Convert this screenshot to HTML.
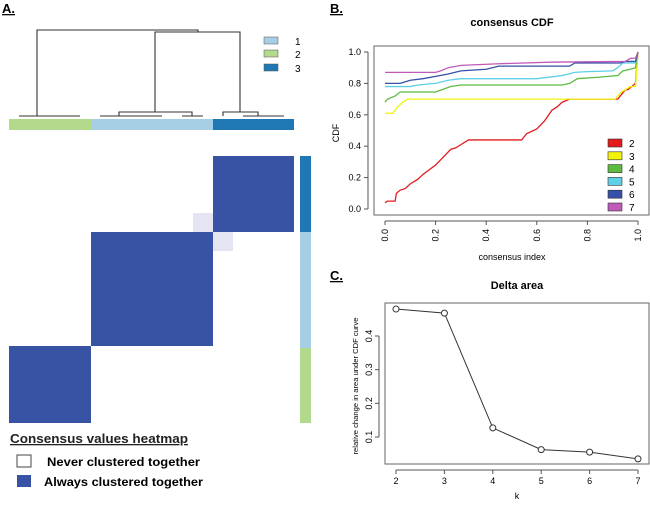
<!DOCTYPE html>
<html><head><meta charset="utf-8"><style>
body{margin:0;background:#fff;}
svg{display:block;font-family:"Liberation Sans",Arial,sans-serif;}
</style></head><body>
<svg id="fig" width="650" height="506" viewBox="0 0 650 506">
<!-- Panel A -->
<g>
<text x="2" y="13" font-size="13" font-weight="bold" text-decoration="underline">A.</text>
<g stroke="#333" stroke-width="1.1" fill="none">
<path d="M37,116 V30 H198 V32"/>
<path d="M155,112 V32 H240 V112"/>
<path d="M19,116 H80"/>
<path d="M119,116 V112 H192 V116"/>
<path d="M100,116 H162"/><path d="M182,116 H203"/>
<path d="M223,116 V112 H258 V116"/>
<path d="M243,116 H284"/>
</g>
<g>
<rect x="9" y="119" width="82" height="11" fill="#b2d98c"/>
<rect x="91" y="119" width="122" height="11" fill="#a6cfe5"/>
<rect x="213" y="119" width="81" height="11" fill="#1f78b4"/>
</g>
<g>
<rect x="264" y="37" width="14" height="7" fill="#a6cfe5" stroke="#555" stroke-width="0.5"/>
<rect x="264" y="50" width="14" height="7" fill="#b2d98c" stroke="#555" stroke-width="0.5"/>
<rect x="264" y="64" width="14" height="7" fill="#1f78b4" stroke="#555" stroke-width="0.5"/>
<text x="295" y="45" font-size="10">1</text><text x="295" y="58" font-size="10">2</text><text x="295" y="72" font-size="10">3</text>
</g>
<g>
<rect x="193" y="213" width="20" height="19" fill="#e4e4f2"/>
<rect x="213" y="232" width="20" height="19" fill="#e4e4f2"/>
<rect x="213" y="156" width="81" height="76" fill="#3953a4"/>
<rect x="91" y="232" width="122" height="114" fill="#3953a4"/>
<rect x="9" y="346" width="82" height="77" fill="#3953a4"/>
</g>
<g>
<rect x="300" y="156" width="11" height="76" fill="#1f78b4"/>
<rect x="300" y="232" width="11" height="116" fill="#a6cfe5"/>
<rect x="300" y="348" width="11" height="75" fill="#b2d98c"/>
</g>
<text x="10" y="443" font-size="13" font-weight="bold" text-decoration="underline" fill="#222" textLength="178" lengthAdjust="spacingAndGlyphs">Consensus values heatmap</text>
<rect x="17" y="455" width="14" height="12" fill="#fff" stroke="#444"/>
<text x="47" y="466" font-size="11.5" font-weight="bold" textLength="153" lengthAdjust="spacingAndGlyphs">Never clustered together</text>
<rect x="17" y="475" width="14" height="12" fill="#3953a4"/>
<text x="44" y="486" font-size="11.5" font-weight="bold" textLength="159" lengthAdjust="spacingAndGlyphs">Always clustered together</text>
</g>
<!-- Panel B -->
<g id="pb">
<text x="330" y="13" font-size="13" font-weight="bold" text-decoration="underline">B.</text>
<text x="512" y="26" font-size="11" font-weight="bold" text-anchor="middle">consensus CDF</text>
<rect x="374" y="46" width="275" height="169" fill="none" stroke="#666"/>
<text transform="translate(339,133) rotate(-90)" font-size="9" text-anchor="middle">CDF</text>
<text x="512" y="260" font-size="9" text-anchor="middle">consensus index</text>
</g>
<!-- Panel C -->
<g id="pc">
<text x="330" y="280" font-size="13" font-weight="bold" text-decoration="underline">C.</text>
<text x="517" y="289" font-size="11" font-weight="bold" text-anchor="middle">Delta area</text>
<rect x="385" y="303" width="264" height="161" fill="none" stroke="#666"/>
<text transform="translate(358,386) rotate(-90)" font-size="7" text-anchor="middle" textLength="137" lengthAdjust="spacingAndGlyphs">relative change in area under CDF curve</text>
<text x="517" y="499" font-size="9" text-anchor="middle">k</text>
</g>
</svg>
<script>
const NS="http://www.w3.org/2000/svg";
const cdfK=["2","3","4","5","6","7"];
const cdfColors=["#e41a1c","#f2f20a","#5dbb3f","#5fcfe6","#3450a8","#c05ab8"];
const cdf2x=[0,0.01,0.04,0.045,0.06,0.08,0.1,0.13,0.15,0.2,0.23,0.26,0.28,0.3,0.33,0.54,0.56,0.6,0.63,0.66,0.68,0.7,0.73,0.92,0.93,0.95,0.96,0.99,1];
const cdf2y=[0.04,0.05,0.05,0.1,0.12,0.13,0.16,0.19,0.22,0.28,0.33,0.38,0.39,0.41,0.44,0.44,0.48,0.51,0.56,0.63,0.65,0.68,0.7,0.7,0.72,0.76,0.76,0.8,1];
const cdf3x=[0,0.03,0.05,0.07,0.09,0.1,0.91,0.93,0.95,0.97,0.99,1];
const cdf3y=[0.61,0.61,0.65,0.68,0.7,0.7,0.7,0.74,0.76,0.78,0.78,1];
const cdf4x=[0,0.01,0.04,0.06,0.2,0.26,0.3,0.7,0.73,0.76,0.85,0.92,0.94,0.97,0.99,1];
const cdf4y=[0.68,0.7,0.72,0.745,0.745,0.78,0.79,0.79,0.8,0.83,0.84,0.85,0.88,0.89,0.9,1];
const cdf5x=[0,0.1,0.13,0.2,0.25,0.3,0.6,0.7,0.75,0.8,0.9,0.92,0.94,0.99,1];
const cdf5y=[0.78,0.78,0.79,0.8,0.82,0.83,0.83,0.85,0.87,0.875,0.88,0.9,0.93,0.93,1];
const cdf6x=[0,0.06,0.1,0.15,0.2,0.25,0.3,0.4,0.45,0.73,0.75,0.93,0.95,0.99,1];
const cdf6y=[0.8,0.8,0.82,0.83,0.845,0.86,0.88,0.89,0.91,0.91,0.93,0.93,0.94,0.94,1];
const cdf7x=[0,0.2,0.22,0.25,0.3,0.45,0.65,0.95,0.97,0.99,1];
const cdf7y=[0.87,0.87,0.88,0.9,0.915,0.925,0.935,0.94,0.96,0.96,1];
const cdfXTicks=["0.0","0.2","0.4","0.6","0.8","1.0"];
const cdfYTicks=["0.0","0.2","0.4","0.6","0.8","1.0"];
const deltaK=[2,3,4,5,6,7];
const deltaVals=[0.48,0.468,0.127,0.0625,0.055,0.035];
const deltaYTicks=["0.1","0.2","0.3","0.4"];

const bx=v=>385+v*253, by=v=>209-v*157;
const cx=k=>396+(k-2)*48.4, cy=v=>437-(v-0.1)*336.7;
function mk(t,a,p){const e=document.createElementNS(NS,t);for(const k in a)e.setAttribute(k,a[k]);p.appendChild(e);return e;}
const pb=document.getElementById('pb'), pc=document.getElementById('pc');
const ax=mk('g',{},pb);


mk('line',{x1:bx(0),x2:bx(1),y1:221,y2:221,stroke:'#555'},ax);
mk('line',{x1:368,x2:368,y1:by(0),y2:by(1),stroke:'#555'},ax);
cdfXTicks.forEach(s=>{const v=parseFloat(s);mk('line',{x1:bx(v),x2:bx(v),y1:221,y2:225,stroke:'#555'},ax);
 const t=mk('text',{transform:`translate(${bx(v)+3},229) rotate(-90)`,'font-size':9,'text-anchor':'end'},ax);t.textContent=s;
 
 });
cdfYTicks.forEach(s=>{const v=parseFloat(s);mk('line',{x1:364,x2:368,y1:by(v),y2:by(v),stroke:'#555'},ax);
 const t=mk('text',{x:361,y:by(v)+3,'font-size':9,'text-anchor':'end'},ax);t.textContent=s;
 
 });
const xs=[cdf2x,cdf3x,cdf4x,cdf5x,cdf6x,cdf7x], ys=[cdf2y,cdf3y,cdf4y,cdf5y,cdf6y,cdf7y];
cdfK.forEach((k,i)=>{const pts=xs[i].map((x,j)=>bx(x)+','+by(ys[i][j])).join(' ');
 const l=mk('polyline',{points:pts,fill:'none',stroke:cdfColors[i],'stroke-width':1.3},pb);
 
 
 const y=143+i*12.8;
 const r=mk('rect',{x:608,y:y-4,width:14,height:8,fill:cdfColors[i],stroke:'#333','stroke-width':0.6},pb);
 
 
 const t=mk('text',{x:629,y:y+4,'font-size':10},pb);t.textContent=k;
 
 });
const ax2=mk('g',{},pc);


mk('line',{x1:cx(2),x2:cx(7),y1:470,y2:470,stroke:'#555'},ax2);
mk('line',{x1:379,x2:379,y1:cy(0.1),y2:cy(0.4),stroke:'#555'},ax2);
deltaK.forEach(k=>{mk('line',{x1:cx(k),x2:cx(k),y1:470,y2:474,stroke:'#555'},ax2);
 const t=mk('text',{x:cx(k),y:484,'font-size':9,'text-anchor':'middle'},ax2);t.textContent=k;
 
 });
deltaYTicks.forEach(s=>{const v=parseFloat(s);mk('line',{x1:375,x2:379,y1:cy(v),y2:cy(v),stroke:'#555'},ax2);
 const t=mk('text',{transform:`translate(372,${cy(v)}) rotate(-90)`,'font-size':9,'text-anchor':'middle'},ax2);t.textContent=s;
 
 });
const dl=mk('polyline',{points:deltaK.map((k,i)=>cx(k)+','+cy(deltaVals[i])).join(' '),fill:'none',stroke:'#333','stroke-width':1},pc);


deltaK.forEach((k,i)=>{const c=mk('circle',{cx:cx(k),cy:cy(deltaVals[i]),r:3,fill:'#fff',stroke:'#333'},pc);
 
 });
</script>
</body></html>
